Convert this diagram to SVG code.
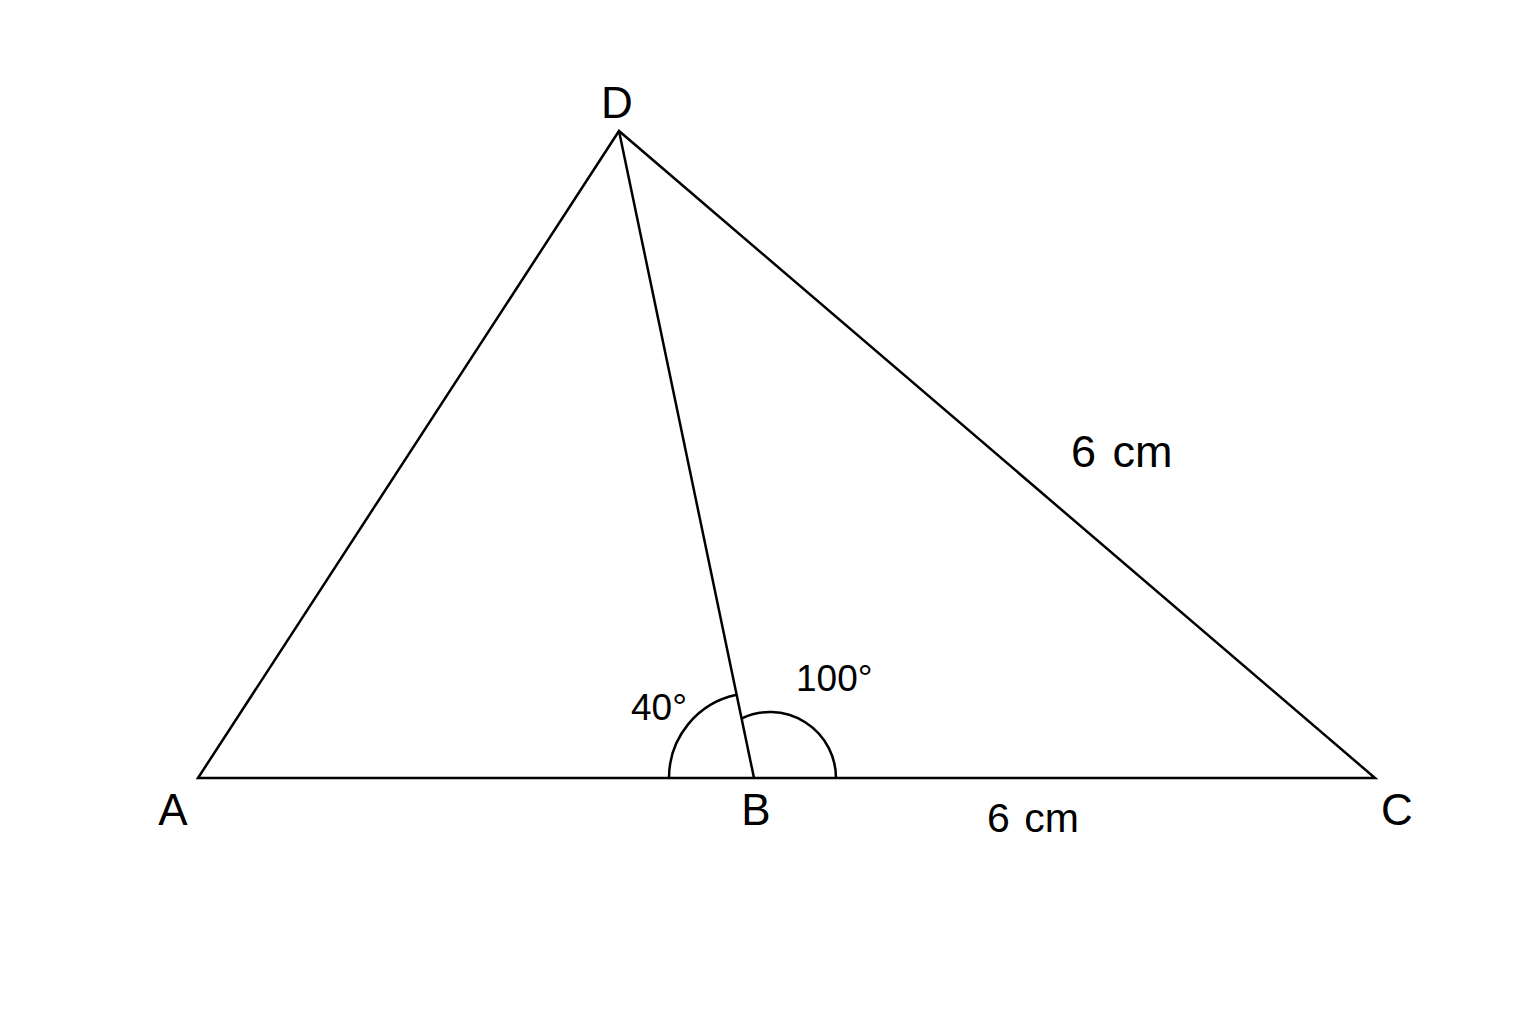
<svg xmlns="http://www.w3.org/2000/svg" width="1536" height="1024" viewBox="0 0 1536 1024">
<style>
.ln{stroke:#000;stroke-width:2.5;fill:none;stroke-linejoin:miter}
.lbl{font-family:"Liberation Sans",Arial,sans-serif;fill:#000}
</style>
<rect width="1536" height="1024" fill="#fff"/>
<g id="connectors">
<path class="ln" d="M198,778 L619,131 L1375,778 Z"/>
<path class="ln" d="M619,131 L754,778"/>
<path class="ln" d="M669,778 A85,85 0 0 1 736.7,694.8"/>
<path class="ln" d="M741.6,718.5 A66,66 0 0 1 836,778"/>
</g>
<g id="node-A"><text class="lbl" x="173" y="825" font-size="44" text-anchor="middle">A</text></g>
<g id="node-B"><text class="lbl" x="756" y="825" font-size="44" text-anchor="middle">B</text></g>
<g id="node-C"><text class="lbl" x="1397" y="825" font-size="44" text-anchor="middle">C</text></g>
<g id="node-D"><text class="lbl" x="617" y="118" font-size="44" text-anchor="middle">D</text></g>
<g id="labels">
<text class="lbl" x="1071" y="467" font-size="45" word-spacing="4">6 cm</text>
<text class="lbl" x="987" y="832" font-size="41" word-spacing="3">6 cm</text>
<text class="lbl" x="631" y="720" font-size="37">40°</text>
<text class="lbl" x="796" y="691" font-size="37">100°</text>
</g>
</svg>
